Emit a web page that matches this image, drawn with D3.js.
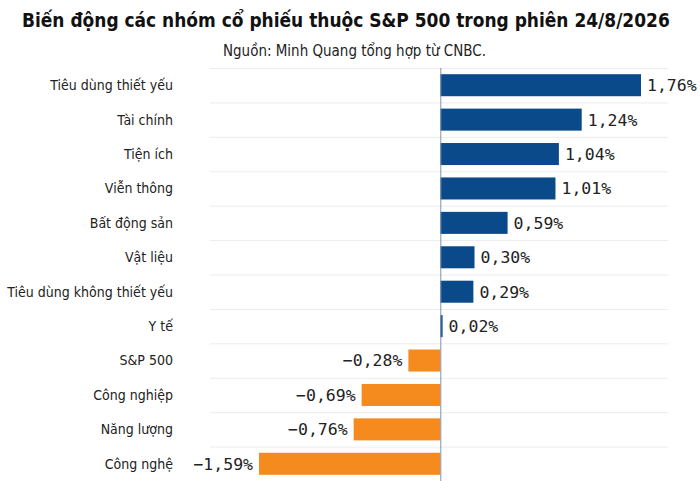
<!DOCTYPE html>
<html>
<head>
<meta charset="utf-8">
<script src="https://cdn.jsdelivr.net/npm/d3@7"></script>
<style>
  body { margin: 0; background: #fff; }
  svg { display: block; }
</style>
</head>
<body>
<svg id="chart" width="700" height="481"></svg>
<script>
// categories and % change, top to bottom
const categories = [
  "Tiêu dùng thiết yếu", "Tài chính", "Tiện ích", "Viễn thông",
  "Bất động sản", "Vật liệu", "Tiêu dùng không thiết yếu", "Y tế",
  "S&P 500", "Công nghiệp", "Năng lượng", "Công nghệ"
];
const changes = [1.76, 1.24, 1.04, 1.01, 0.59, 0.30, 0.29, 0.02, -0.28, -0.69, -0.76, -1.59];

const titleText = "Biến động các nhóm cổ phiếu thuộc S&P 500 trong phiên 24/8/2026";
const sourceText = "Nguồn: Minh Quang tổng hợp từ CNBC.";

const width = 700, height = 481;
const svg = d3.select("#chart");

const margin = { top: 68, bottom: 0 };
const plotLeft = 210, plotRight = 668;
const sansFont = "'DejaVu Sans Condensed', 'DejaVu Sans', sans-serif";

const x = d3.scaleLinear().domain([-1.59, 1.76]).range([259, 641]);
const y = d3.scaleBand().domain(categories).range([margin.top, height - margin.bottom]).paddingInner(0.36).paddingOuter(0.18);

const fmt = v => (v < 0 ? "\u2212" : "") + Math.abs(v).toFixed(2).replace(".", ",") + "%";

// shrink the font of a text until it fits the given width
function fitWidth(sel, target) {
  const size = +sel.attr("font-size");
  const len = sel.node().getComputedTextLength();
  if (len > target) sel.attr("font-size", (size * target / len).toFixed(2));
}

// title
svg.append("text")
  .attr("x", 22).attr("y", 27)
  .attr("font-family", sansFont)
  .attr("font-weight", "bold").attr("font-size", 20)
  .attr("fill", "#111")
  .text(titleText)
  .call(fitWidth, 648);

svg.append("text")
  .attr("x", 223).attr("y", 56)
  .attr("font-family", sansFont)
  .attr("font-size", 16)
  .attr("fill", "#222")
  .text(sourceText)
  .call(fitWidth, 263);

// row separators
const bounds = categories.map((c, i) => margin.top + i * ((height - margin.top) / categories.length));
svg.append("g").selectAll("line")
  .data(bounds)
  .join("line")
  .attr("x1", plotLeft).attr("x2", plotRight)
  .attr("y1", d => d + 0.5).attr("y2", d => d + 0.5)
  .attr("stroke", "#ececec");

// bars
svg.append("g").selectAll("rect")
  .data(categories)
  .join("rect")
  .attr("x", (d, i) => x(Math.min(0, changes[i])))
  .attr("width", (d, i) => Math.abs(x(changes[i]) - x(0)))
  .attr("y", d => y(d))
  .attr("height", y.bandwidth())
  .attr("fill", (d, i) => changes[i] >= 0 ? "#0b4a8a" : "#f58a1f");

// zero line
svg.append("line")
  .attr("x1", x(0) + 0.5).attr("x2", x(0) + 0.5)
  .attr("y1", margin.top).attr("y2", height)
  .attr("stroke", "#7f93ad").attr("stroke-width", 1);

// value labels
svg.append("g").selectAll("text")
  .data(categories)
  .join("text")
  .attr("x", (d, i) => changes[i] >= 0 ? x(changes[i]) + 6 : x(changes[i]) - 6)
  .attr("y", d => y(d) + y.bandwidth() / 2)
  .attr("dy", "0.36em")
  .attr("text-anchor", (d, i) => changes[i] >= 0 ? "start" : "end")
  .attr("font-family", "'DejaVu Sans Mono', monospace")
  .attr("font-size", 16.5)
  .attr("fill", "#222")
  .text((d, i) => fmt(changes[i]));

// category labels
svg.append("g").selectAll("text")
  .data(categories)
  .join("text")
  .attr("x", 173)
  .attr("y", d => y(d) + y.bandwidth() / 2)
  .attr("dy", "0.35em")
  .attr("text-anchor", "end")
  .attr("font-family", sansFont)
  .attr("font-size", 14)
  .attr("fill", "#222")
  .text(d => d);
</script>
</body>
</html>
